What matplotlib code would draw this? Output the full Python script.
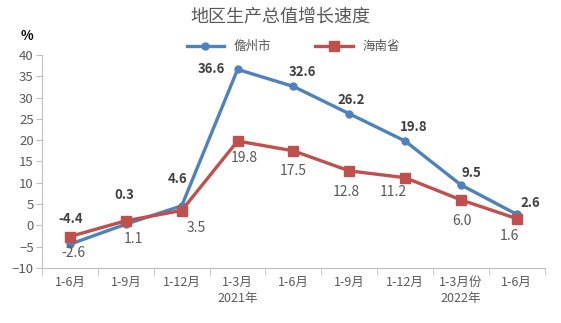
import matplotlib.pyplot as plt
import numpy as np

plt.rcParams['font.family'] = ['Noto Sans CJK SC', 'DejaVu Sans']

periods = ['1-6月', '1-9月', '1-12月', '1-3月\n2021年', '1-6月',
           '1-9月', '1-12月', '1-3月份\n2022年', '1-6月']
danzhou = [-4.4, 0.3, 4.6, 36.6, 32.6, 26.2, 19.8, 9.5, 2.6]
hainan = [-2.6, 1.1, 3.5, 19.8, 17.5, 12.8, 11.2, 6.0, 1.6]
yticks = list(range(-10, 41, 5))

# label offsets in pixels (dx, dy) from each point
danzhou_off = [(1, 25), (-2, 29), (-4, 27), (-26, 0), (9, 14),
               (2, 14), (9, 14), (10, 12), (13, 11)]
hainan_off = [(3, -16), (8, -18), (15, -17), (7, -17), (0, -20),
              (-3, -21), (-12, -14), (1, -21), (-7, -17)]

blue = '#4F81BD'
red = '#C0504D'
grey = '#595959'

fig = plt.figure(figsize=(5.61, 3.23), dpi=100)
ax = fig.add_axes([0.075, 0.170, 0.896, 0.660])

x = np.arange(len(periods))
ax.plot(x, danzhou, color=blue, lw=2.4, marker='o', ms=5, label='儋州市', zorder=3)
ax.plot(x, hainan, color=red, lw=2.4, marker='s', ms=6.5, label='海南省', zorder=3)

for xi, v, (dx, dy) in zip(x, danzhou, danzhou_off):
    ax.annotate(f'{v:.1f}', (xi, v), xytext=(dx, dy), textcoords='offset pixels',
                ha='center', va='center', fontsize=9.5, fontweight='bold', color='#404040')
for xi, v, (dx, dy) in zip(x, hainan, hainan_off):
    ax.annotate(f'{v:.1f}', (xi, v), xytext=(dx, dy), textcoords='offset pixels',
                ha='center', va='center', fontsize=10, color=grey)

ax.set_xlim(-0.5, len(periods) - 0.5)
ax.set_ylim(-10, 40)
ax.set_yticks(yticks)
ax.set_xticks(x)
ax.set_xticklabels(periods, fontsize=9, color=grey, linespacing=1.25)
ax.set_xticks(np.arange(-0.5, len(periods)), minor=True)
ax.tick_params(axis='x', which='major', length=0, pad=6)
ax.tick_params(axis='x', which='minor', length=5, color='#BFBFBF')
ax.tick_params(axis='y', labelsize=9.5, colors=grey, length=4, pad=2)
ax.tick_params(axis='y', color='#BFBFBF')

for side in ['top', 'right']:
    ax.spines[side].set_visible(False)
for side in ['left', 'bottom']:
    ax.spines[side].set_color('#BFBFBF')

fig.text(0.5, 0.945, '地区生产总值增长速度', ha='center', va='center', fontsize=13, color=grey)
fig.text(0.048, 0.89, '%', ha='center', va='center', fontsize=9.5, fontweight='bold', color='black')
ax.legend(loc='center', bbox_to_anchor=(0.5, 1.04), ncol=2, frameon=False,
          fontsize=9, handlelength=3, columnspacing=3.5, labelcolor=grey)

fig.savefig('out.png', dpi=100)
